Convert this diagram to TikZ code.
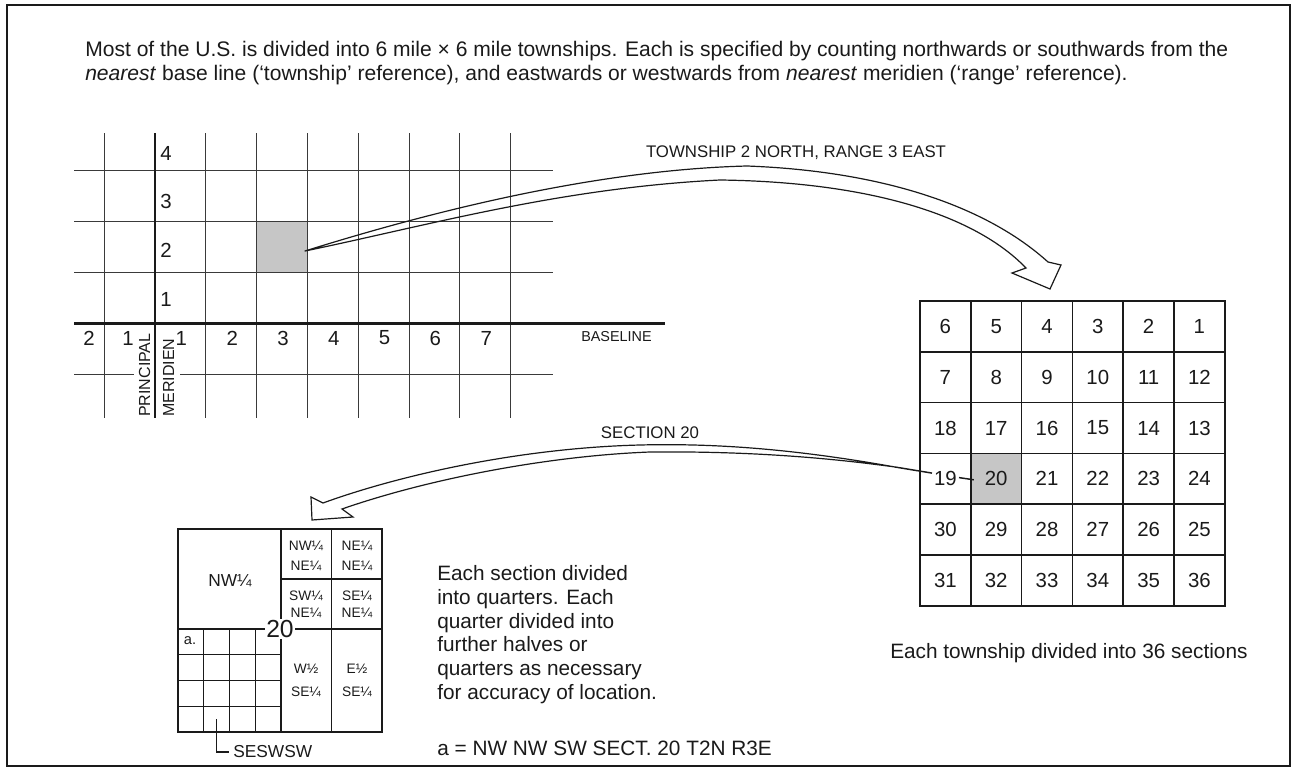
\documentclass[tikz,border=0pt]{standalone}
\usepackage{fontspec}
\setmainfont{Liberation Sans}
\definecolor{inkgray}{HTML}{1A1A1A}
\definecolor{plotgray}{HTML}{3A3A3A}
\definecolor{shadegray}{HTML}{C6C6C6}

\begin{document}
\begin{tikzpicture}[
  x=0.75pt, y=-0.75pt,
  every node/.style={inner sep=0pt, text=inkgray},
  bodytext/.style={font=\fontsize{15.8}{18}\selectfont, anchor=base west},
  notetext/.style={font=\fontsize{15.6}{17.6}\selectfont, align=left},
  tag/.style={font=\fontsize{12.6}{15}\selectfont},
  digit/.style={font=\fontsize{15.3}{18}\selectfont},
  quarter/.style={font=\fontsize{10.3}{15}\selectfont, align=center},
  frame/.style={draw=inkgray, line width=1.4pt},
  gridline/.style={draw=plotgray, line width=0.7pt},
  axis/.style={draw=inkgray, line width=1.9pt},
  cell/.style={draw=inkgray, line width=1.1pt, minimum size=38.1pt, outer sep=0pt},
  part/.style={draw=inkgray, line width=1.4pt},
  subpart/.style={draw=inkgray, line width=0.8pt},
  hollow/.style={draw=inkgray, line width=0.9pt, line join=miter},
  leader/.style={draw=inkgray, line width=1.1pt}
]
\useasboundingbox (0,0) rectangle (1307,771);
\draw[frame] (7,5) rectangle (1290,766);

% intro text
\node[bodytext] (intro1) at (85,56)
  {Most of the U.S. is divided into 6 mile × 6 mile townships. Each is specified by counting northwards or southwards from the};
\node[bodytext] (intro2) at (85,80)
  {\textit{nearest} base line (`township' reference), and eastwards or westwards from \textit{nearest} meridien (`range' reference).};

% township / range grid
\node[fill=shadegray, minimum size=38.1pt] (t2n3e) at (282,247.1) {};
\foreach \i in {-1,1,2,...,7}
  \draw[gridline] ({155+50.8*\i},133) -- ({155+50.8*\i},418);
\foreach \j in {1,2,3}
  \draw[gridline] (74,{323.3-50.8*\j}) -- (553,{323.3-50.8*\j});
\draw[gridline] (74,374.1) -- (134,374.1);
\draw[gridline] (180,374.1) -- (553,374.1);
\draw[axis] (155,133) -- (155,418);
\draw[axis] (74,323.3) -- (665,323.3);

\foreach \n/\y in {1/299,2/250,3/201,4/153}
  \node[digit, anchor=west] (north\n) at (160,\y) {\n};
\foreach \n in {1,...,7}
  \node[digit] (east\n) at ({156+50.8*(\n-0.5)},338) {\n};
\node[digit] (west1) at (128,338) {1};
\node[digit] (west2) at (89,338) {2};
\node[font=\fontsize{10.8}{12}\selectfont, anchor=west] (baseline) at (581,337) {BASELINE};
\node[font=\fontsize{12}{14}\selectfont, rotate=90, anchor=base west] (principal) at (150,417) {PRINCIPAL};
\node[font=\fontsize{12}{14}\selectfont, rotate=90, anchor=base west] (meridien) at (174,417) {MERIDIEN};

% 36 sections of a township
\foreach \r in {1,...,6} {
  \foreach \c in {1,...,6} {
    \pgfmathtruncatemacro{\n}{mod(\r,2)==1 ? 6*(\r-1)+7-\c : 6*(\r-1)+\c}
    \ifnum\n=20 \def\cellfill{shadegray}\else\def\cellfill{none}\fi
    \node[cell, digit, fill=\cellfill] (sec\n) at ({920+50.8*(\c-0.5)},{301+50.8*(\r-0.5)}) {\n};
  }
}
\node[notetext, anchor=base west] (townnote) at (890,658) {Each township divided into 36 sections};

% section 20 split into quarters
\draw[part] (178,529) rectangle (382,732);
\draw[part] (281,529) -- (281,732);
\draw[part] (178,629) -- (382,629);
\draw[part] (331.5,529) -- (331.5,732);
\draw[part] (281,579) -- (382,579);
\foreach \k in {1,2,3} {
  \draw[subpart] ({178+25.75*\k},629) -- ({178+25.75*\k},732);
  \draw[subpart] (178,{629+25.75*\k}) -- (281,{629+25.75*\k});
}
\node[font=\fontsize{18.5}{20}\selectfont, fill=white, inner sep=1pt] (twenty) at (280,629) {20};
\node[font=\fontsize{13}{15}\selectfont] (nwq) at (230,581) {NW¼};
\node[quarter] (nwne) at (306,556) {NW¼\\NE¼};
\node[quarter] (nene) at (357,556) {NE¼\\NE¼};
\node[quarter, font=\fontsize{10.3}{12.8}\selectfont] (swne) at (306,604) {SW¼\\NE¼};
\node[quarter, font=\fontsize{10.3}{12.8}\selectfont] (sene) at (357,604) {SE¼\\NE¼};
\node[quarter, font=\fontsize{10.3}{17.2}\selectfont] (wse) at (306,680) {W½\\SE¼};
\node[quarter, font=\fontsize{10.3}{17.2}\selectfont] (ese) at (357,680) {E½\\SE¼};
\node[font=\fontsize{11}{12}\selectfont] (acell) at (190,641) {a.};
\node[tag, font=\fontsize{13}{15}\selectfont, anchor=west] (seswsw) at (233,752) {SESWSW};
\draw[leader] (216.6,719) |- ([xshift=-3pt]seswsw.west);

\node[notetext, font=\fontsize{15.6}{17.9}\selectfont, anchor=north west] (quarters) at (437,565)
  {Each section divided\\into quarters. Each\\quarter divided into\\further halves or\\quarters as necessary\\for accuracy of location.};
\node[notetext, anchor=base west] (example) at (437,755) {a = NW NW SW SECT. 20 T2N R3E};

% hollow arrows
\coordinate (tail1) at ([shift={(-3,4)}]t2n3e.east);
\coordinate (tip1) at ([shift={(3,-12)}]sec4.north);
\draw[hollow] (tail1) .. controls (420,215) and (590,170) .. (747,166)
  .. controls (880,171) and (985,205) .. (1048,262)
  -- (1061,265) -- (tip1) -- (1012,273) -- (1026,268)
  .. controls (975,215) and (870,182) .. (720,180)
  .. controls (560,188) and (430,225) .. (tail1) -- cycle;
\node[tag] (townlabel) at (796,153) {TOWNSHIP 2 NORTH, RANGE 3 EAST};

\coordinate (tail2) at ([shift={(3,1)}]sec20.west);
\coordinate (merge2) at (895,467);
\coordinate (tip2) at (312,520);
\draw[hollow] (merge2) .. controls (800,450) and (720,443) .. (640,445)
  .. controls (520,448) and (400,475) .. (323,503)
  -- (311,497) -- (tip2) -- (353,517) -- (342,509)
  .. controls (425,480) and (545,456) .. (650,452)
  .. controls (750,451) and (830,458) .. (merge2) -- cycle;
\draw[leader] (merge2) -- (932,473.1);
\draw[leader] (959,477.6) -- (tail2);
\node[tag] (seclabel) at (650,433) {SECTION 20};

\end{tikzpicture}
\end{document}
